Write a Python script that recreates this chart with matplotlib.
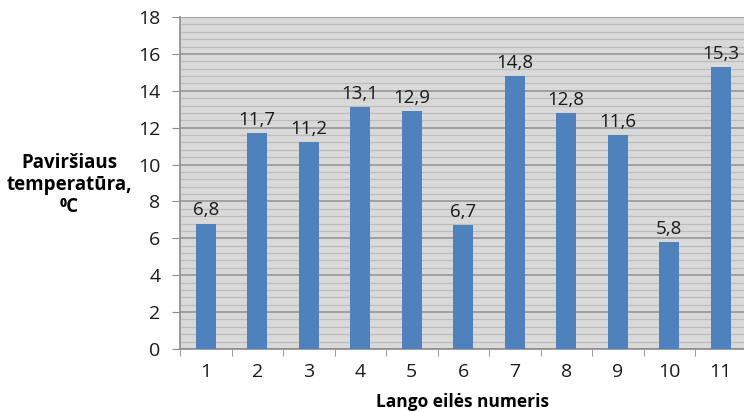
import numpy as np
import matplotlib.pyplot as plt
from matplotlib.ticker import MultipleLocator, FixedLocator

# window number and measured surface temperature
langai = [1, 2, 3, 4, 5, 6, 7, 8, 9, 10, 11]
temperatura = [6.8, 11.7, 11.2, 13.1, 12.9, 6.7, 14.8, 12.8, 11.6, 5.8, 15.3]

plt.rcParams['font.family'] = ['Open Sans', 'DejaVu Sans']

fig = plt.figure(figsize=(7.44, 4.12), dpi=100)
# plot area runs slightly past the right edge of the figure
ax = fig.add_axes([180/744, 1 - 349/412, 566.5/744, 332/412])
ax.set_facecolor('#d9d9d9')

bars = ax.bar(langai, temperatura, width=0.39, color='#4f81bd', zorder=3)
for b, v in zip(bars, temperatura):
    ax.annotate(f'{v:.1f}'.replace('.', ','), (b.get_x() + b.get_width()/2, v),
                xytext=(0, 3), textcoords='offset points', ha='center', va='bottom',
                fontsize=13.5, color='#1a1a1a')

ax.set_xlim(0.5, 11.5)
ax.set_ylim(0, 18)
ax.yaxis.set_major_locator(MultipleLocator(2))
ax.yaxis.set_minor_locator(MultipleLocator(0.4))
ax.set_xticks(langai)
ax.xaxis.set_minor_locator(FixedLocator(np.arange(0.5, 12, 1)))

ax.grid(axis='y', which='major', color='#a0a0a0', linewidth=1.4, zorder=1)
ax.grid(axis='y', which='minor', color='#bdbdbd', linewidth=0.9, zorder=1)
ax.set_axisbelow(True)

ax.tick_params(axis='y', which='major', length=6, color='#8c8c8c', labelsize=14,
               labelcolor='#1a1a1a', pad=8)
ax.tick_params(axis='y', which='minor', length=0)
ax.tick_params(axis='x', which='major', length=0, labelsize=14, labelcolor='#1a1a1a', pad=10)
ax.tick_params(axis='x', which='minor', length=5, color='#8c8c8c')

for s in ['top', 'right']:
    ax.spines[s].set_visible(False)
for s in ['left', 'bottom']:
    ax.spines[s].set_color('#8c8c8c')
    ax.spines[s].set_linewidth(1.2)

fig.text(69/744, 1 - 185/412, 'Paviršiaus\ntemperatūra,\n⁰C', ha='center', va='center',
         fontsize=13.5, fontweight='bold', linespacing=1.15)
fig.text(463/744, 1 - 402/412, 'Lango eilės numeris', ha='center', va='center',
         fontsize=12.5, fontweight='bold')

fig.savefig('out.png', dpi=100)
